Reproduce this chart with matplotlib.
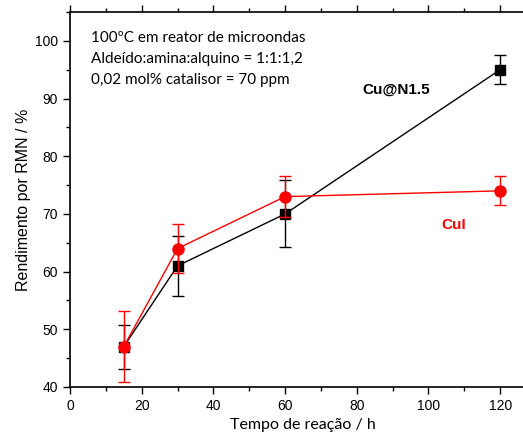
import matplotlib.pyplot as plt
from matplotlib.ticker import MultipleLocator

# Reaction time (h)
tempo = [15, 30, 60, 120]

# Cu@N1.5 yields and error
cu_n15 = [47, 61, 70, 95]
cu_n15_err = [3.8, 5.2, 5.8, 2.5]

# CuI yields and error
cui = [47, 64, 73, 74]
cui_err = [6.2, 4.2, 3.6, 2.5]

notas = ["100\u00baC em reator de microondas",
         "Alde\u00eddo:amina:alquino = 1:1:1,2",
         "0,02 mol% catalisor = 70 ppm"]

arial = ['Liberation Sans', 'DejaVu Sans']
calibri = ['Lato', 'DejaVu Sans']
plt.rcParams['font.family'] = arial

fig = plt.figure(figsize=(5.23, 4.36), dpi=100)
ax = fig.add_axes([70/523, 1 - 387/436, 466/523, 375/436])

ax.errorbar(tempo, cu_n15, yerr=cu_n15_err, color='black', marker='s', ms=7,
            lw=1, elinewidth=1, capsize=4, capthick=1, zorder=3)
ax.errorbar(tempo, cui, yerr=cui_err, color='#ff0000', marker='o', ms=8,
            lw=1, elinewidth=1, capsize=4, capthick=1, zorder=4)

ax.text(91, 91.6, "Cu@N1.5", fontsize=11, fontweight='bold', color='black',
        ha='center', va='center', family=arial)
ax.text(107, 68.1, "CuI", fontsize=11, fontweight='bold', color='#ff0000',
        ha='center', va='center', family=arial)

for i, linha in enumerate(notas):
    ax.text(5.9, 100.5 - i * 3.6, linha, fontsize=11, family=calibri,
            ha='left', va='center')

ax.set_xlim(0, 130)
ax.set_ylim(40, 105)
ax.set_xticks([0, 20, 40, 60, 80, 100, 120])
ax.set_yticks([40, 50, 60, 70, 80, 90, 100])
ax.xaxis.set_minor_locator(MultipleLocator(10))
ax.yaxis.set_minor_locator(MultipleLocator(5))
ax.tick_params(which='major', direction='out', length=5, width=1, labelsize=10)
ax.tick_params(which='minor', direction='out', length=3, width=1)
ax.tick_params(axis='x', which='both', top=True, labeltop=False)
ax.spines['right'].set_visible(False)
for s in ax.spines.values():
    s.set_linewidth(1.2)

ax.set_xlabel("Tempo de rea\u00e7\u00e3o / h", fontsize=11.5, family=calibri, labelpad=4)
ax.set_ylabel("Rendimento por RMN / %", fontsize=11.5, labelpad=3)

fig.savefig("out.png", dpi=100)
